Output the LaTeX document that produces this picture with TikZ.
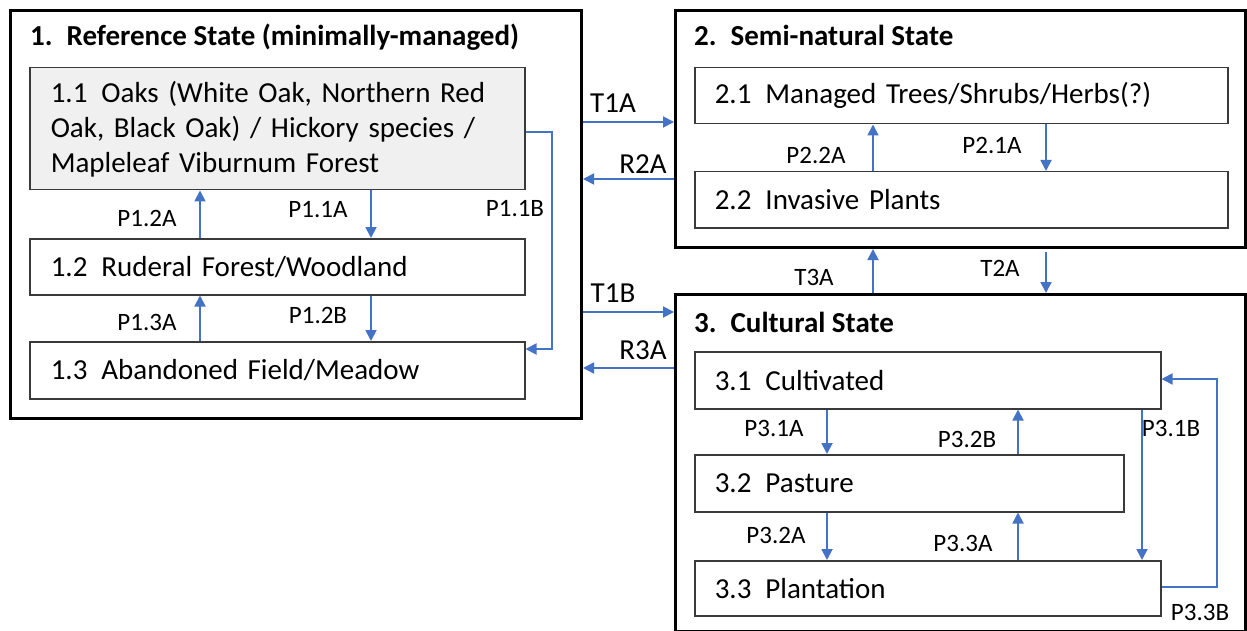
\documentclass[tikz,border=0pt]{standalone}
\usepackage{fontspec}
\setmainfont{Carlito}
\usetikzlibrary{arrows.meta}
\definecolor{arrblue}{HTML}{4472C4}
\definecolor{boxgray}{HTML}{F0F0F0}
\definecolor{edgegray}{HTML}{3A3A3A}
\newcommand{\numgap}{\hspace{14pt}}
\begin{document}
\begin{tikzpicture}[x=1pt,y=-1pt,
  statebox/.style={draw=black,line width=3pt,anchor=north west,inner sep=0pt},
  subbox/.style={draw=edgegray,line width=1.5pt,anchor=north west,inner xsep=21pt,inner ysep=0pt,
     align=left,font=\fontsize{29}{35}\selectfont},
  statetitle/.style={anchor=west,inner sep=0pt,font=\fontsize{29}{32}\selectfont\bfseries},
  lbl/.style={inner sep=0pt,font=\fontsize{25}{27}\selectfont},
  biglbl/.style={inner sep=0pt,font=\fontsize{29}{31}\selectfont},
  arr/.style={draw=arrblue,line width=1.8pt,-{Triangle[length=11pt,width=11pt]}}
]
\useasboundingbox[fill=white] (0,0) rectangle (1247,631);

% state boxes
\node[statebox,minimum width=571pt,minimum height=408pt] (s1) at (9,9) {};
\node[statebox,minimum width=570pt,minimum height=237pt] (s2) at (674,9) {};
\node[statebox,minimum width=570pt,minimum height=337pt] (s3) at (674,293) {};

% titles
\node[statetitle] (t1) at (30,37) {1.\numgap Reference State (minimally-managed)};
\node[statetitle] (t2) at (694,35) {2.\numgap Semi-natural State};
\node[statetitle] (t3) at (694,322) {3.\numgap Cultural State};

% sub boxes state 1
\node[subbox,fill=boxgray,text width=453pt,minimum height=122pt] (b11) at (29,67)
  {1.1\numgap Oaks (White Oak, Northern Red\\Oak, Black Oak) / Hickory species /\\Mapleleaf Viburnum Forest};
\node[subbox,text width=453pt,minimum height=56pt] (b12) at (29,238) {1.2\numgap Ruderal Forest/Woodland};
\node[subbox,text width=453pt,minimum height=57pt] (b13) at (29,341) {1.3\numgap Abandoned Field/Meadow};

% sub boxes state 2
\node[subbox,inner xsep=20pt,text width=493pt,minimum height=56pt] (b21) at (694,67) {2.1\numgap Managed Trees/Shrubs/Herbs(?)};
\node[subbox,inner xsep=20pt,text width=493pt,minimum height=56pt] (b22) at (694,171) {2.2\numgap Invasive Plants};

% sub boxes state 3
\node[subbox,inner xsep=20pt,text width=426pt,minimum height=57pt] (b31) at (694,351) {3.1\numgap Cultivated};
\node[subbox,inner xsep=20pt,text width=389pt,minimum height=57pt] (b32) at (694,454) {3.2\numgap Pasture};
\node[subbox,inner xsep=20pt,text width=426pt,minimum height=55pt] (b33) at (694,560) {3.3\numgap Plantation};

% transitions between states
\draw[arr] (s1.east |- 0,122) -- (s2.west |- 0,122);
\draw[arr] (s2.west |- 0,179) -- (s1.east |- 0,179);
\draw[arr] (s1.east |- 0,312) -- (s3.west |- 0,312);
\draw[arr] (s3.west |- 0,368) -- (s1.east |- 0,368);
\draw[arr] (s3.north -| 873,0) -- (s2.south -| 873,0);
\draw[arr] ([yshift=-3pt]s2.south -| 1046,0) -- (s3.north -| 1046,0);

\node[biglbl] (lT1A) at (613,103) {T1A};
\node[biglbl] (lR2A) at (643,164) {R2A};
\node[biglbl] (lT1B) at (613,293) {T1B};
\node[biglbl] (lR3A) at (643,350) {R3A};
\node[lbl] (lT3A) at (814,277) {T3A};
\node[lbl] (lT2A) at (1000,268) {T2A};

% pathways state 1
\draw[arr] (b12.north -| 200,0) -- (b11.south -| 200,0);
\draw[arr] (b11.south -| 371,0) -- (b12.north -| 371,0);
\draw[arr] (b13.north -| 200,0) -- (b12.south -| 200,0);
\draw[arr] (b12.south -| 371,0) -- (b13.north -| 371,0);
\draw[arr] (b11.east |- 0,132) -| (552,349) -- (b13.east |- 0,349);

\node[lbl] (lP12A) at (147,218) {P1.2A};
\node[lbl] (lP11A) at (318,210) {P1.1A};
\node[lbl] (lP11B) at (515,209) {P1.1B};
\node[lbl] (lP13A) at (147,322) {P1.3A};
\node[lbl] (lP12B) at (318,315) {P1.2B};

% pathways state 2
\draw[arr] (b22.north -| 873,0) -- (b21.south -| 873,0);
\draw[arr] (b21.south -| 1046,0) -- (b22.north -| 1046,0);
\node[lbl] (lP22A) at (816,155) {P2.2A};
\node[lbl] (lP21A) at (992,145) {P2.1A};

% pathways state 3
\draw[arr] (b31.south -| 827,0) -- (b32.north -| 827,0);
\draw[arr] (b32.north -| 1018,0) -- (b31.south -| 1018,0);
\draw[arr] (b32.south -| 827,0) -- (b33.north -| 827,0);
\draw[arr] (b33.north -| 1018,0) -- (b32.south -| 1018,0);
\draw[arr] (b31.south -| 1142,0) -- (b33.north -| 1142,0);
\draw[arr] (b33.east |- 0,587) -| (1217,379) -- (b31.east |- 0,379);

\node[lbl] (lP31A) at (774,428) {P3.1A};
\node[lbl] (lP32B) at (967,439) {P3.2B};
\node[lbl] (lP32A) at (776,535) {P3.2A};
\node[lbl] (lP33A) at (963,543) {P3.3A};
\node[lbl] (lP31B) at (1171,428) {P3.1B};
\node[lbl] (lP33B) at (1200,612) {P3.3B};
\end{tikzpicture}
\end{document}
